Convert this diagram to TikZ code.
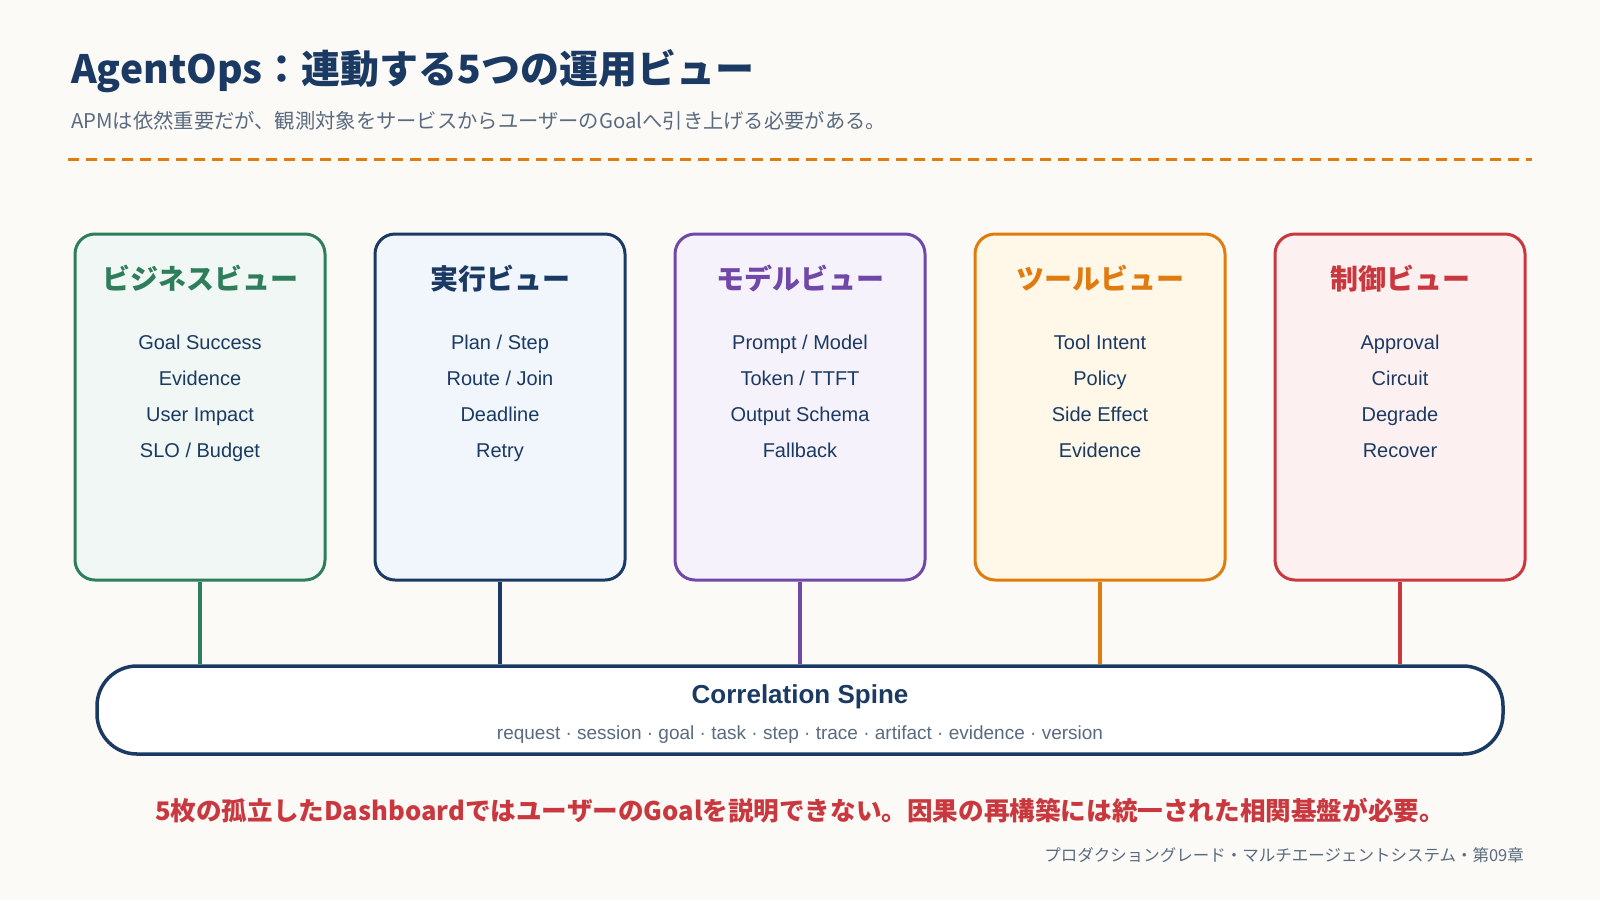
\documentclass[tikz,border=0pt]{standalone}
\usepackage{fontspec}
\setmainfont{Liberation Sans}
\newfontfamily\jpfont{Noto Sans CJK JP}
\usepackage{tikz}
\usetikzlibrary{positioning, calc}
\definecolor{paper}{RGB}{252, 250, 246}
\definecolor{opsnavy}{RGB}{27, 58, 99}
\definecolor{opsgray}{RGB}{90, 107, 128}
\definecolor{opsgreen}{RGB}{46, 125, 91}
\definecolor{opspurple}{RGB}{112, 72, 168}
\definecolor{opsorange}{RGB}{224, 123, 16}
\definecolor{opsred}{RGB}{201, 56, 62}
\definecolor{bizfill}{RGB}{240, 247, 244}
\definecolor{execfill}{RGB}{241, 245, 252}
\definecolor{modelfill}{RGB}{246, 242, 251}
\definecolor{toolfill}{RGB}{255, 247, 232}
\definecolor{ctrlfill}{RGB}{253, 240, 240}

\begin{document}
\begin{tikzpicture}[
        x=1pt, y=-1pt,
        view/.style={rectangle, rounded corners=20pt, line width=3pt,
                     minimum width=250pt, minimum height=346pt},
        vtitle/.style={font=\jpfont\bfseries\fontsize{28}{28}\selectfont},
        items/.style={align=center, anchor=base, text=opsnavy, font=\fontsize{20}{36}\selectfont},
        link/.style={line width=3.5pt}
      ]
        \fill[paper] (0,0) rectangle (1600,900);
        \useasboundingbox (0,0) rectangle (1600,900);

        % heading
        \node[anchor=base west, text=opsnavy, inner sep=0pt,
              font=\jpfont\bfseries\fontsize{39}{39}\selectfont] (title) at (71,83)
              {AgentOps：連動する5つの運用ビュー};
        \node[anchor=base west, text=opsgray, inner sep=0pt,
              font=\jpfont\fontsize{20.3}{20.3}\selectfont] (subtitle) at (71,128)
              {APMは依然重要だが、観測対象をサービスからユーザーのGoalへ引き上げる必要がある。};
        \coordinate (rule-l) at (68,159);
        \coordinate (rule-r) at (1532,159);
        \draw[opsorange, line width=3pt, dash pattern=on 11pt off 7pt] (rule-l) -- (rule-r);

        % five views
        \node[view, draw=opsgreen, fill=bizfill] (biz) at (200,407) {};
        \node[view, draw=opsnavy, fill=execfill, right=47pt of biz] (exec) {};
        \node[view, draw=opspurple, fill=modelfill, right=47pt of exec] (model) {};
        \node[view, draw=opsorange, fill=toolfill, right=47pt of model] (tool) {};
        \node[view, draw=opsred, fill=ctrlfill, right=47pt of tool] (ctrl) {};

        \node[vtitle, text=opsgreen] (biz-t) at ($(biz.north)+(0,46)$) {ビジネスビュー};
        \node[vtitle, text=opsnavy] (exec-t) at ($(exec.north)+(0,46)$) {実行ビュー};
        \node[vtitle, text=opspurple] (model-t) at ($(model.north)+(0,46)$) {モデルビュー};
        \node[vtitle, text=opsorange] (tool-t) at ($(tool.north)+(0,46)$) {ツールビュー};
        \node[vtitle, text=opsred] (ctrl-t) at ($(ctrl.north)+(0,46)$) {制御ビュー};

        \node[items] (biz-i) at ($(biz.north)+(0,225)$) {Goal Success\\Evidence\\User Impact\\SLO / Budget};
        \node[items] (exec-i) at ($(exec.north)+(0,225)$) {Plan / Step\\Route / Join\\Deadline\\Retry};
        \node[items] (model-i) at ($(model.north)+(0,225)$) {Prompt / Model\\Token / TTFT\\Output Schema\\Fallback};
        \node[items] (tool-i) at ($(tool.north)+(0,225)$) {Tool Intent\\Policy\\Side Effect\\Evidence};
        \node[items] (ctrl-i) at ($(ctrl.north)+(0,225)$) {Approval\\Circuit\\Degrade\\Recover};

        % correlation spine
        \node[rectangle, rounded corners=40pt, draw=opsnavy, fill=white, line width=3.5pt,
              minimum width=1406pt, minimum height=88pt] (spine) at (800,710) {};
        \node[text=opsnavy, font=\bfseries\fontsize{26}{26}\selectfont] (spine-t) at (800,697) {Correlation Spine};
        \node[text=opsgray, font=\fontsize{19}{19}\selectfont] (spine-k) at (800,735)
              {request · session · goal · task · step · trace · artifact · evidence · version};

        \draw[link, opsgreen] (biz.south) -- (biz.south |- spine.north);
        \draw[link, opsnavy] (exec.south) -- (exec.south |- spine.north);
        \draw[link, opspurple] (model.south) -- (model.south |- spine.north);
        \draw[link, opsorange] (tool.south) -- (tool.south |- spine.north);
        \draw[link, opsred] (ctrl.south) -- (ctrl.south |- spine.north);

        % takeaway and footer
        \node[text=opsred, font=\jpfont\bfseries\fontsize{25.6}{25.6}\selectfont] (note) at (800,811)
              {5枚の孤立したDashboardではユーザーのGoalを説明できない。因果の再構築には統一された相関基盤が必要。};
        \node[anchor=base east, text=opsgray, inner sep=0pt,
              font=\jpfont\fontsize{16.5}{16.5}\selectfont] (footer) at (1524,861)
              {プロダクショングレード・マルチエージェントシステム・第09章};
      \end{tikzpicture}
\end{document}
